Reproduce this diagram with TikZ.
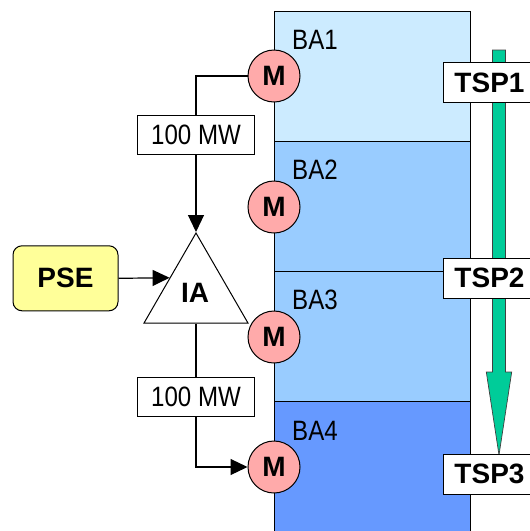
\documentclass[tikz,border=0pt]{standalone}
\usepackage{fontspec}
\setmainfont{Liberation Sans}
\newfontfamily\narrowf[FakeStretch=0.86]{Liberation Sans}
\usetikzlibrary{arrows.meta,shapes.geometric,calc}
\definecolor{baone}{HTML}{CCEBFF}
\definecolor{batwo}{HTML}{99CCFF}
\definecolor{bafour}{HTML}{6699FF}
\definecolor{mpink}{HTML}{FFAAAA}
\definecolor{tspgreen}{HTML}{00CC99}
\definecolor{pseyellow}{HTML}{FFFF99}
\tikzset{
  baarea/.style={draw=black, line width=1pt, minimum width=196pt, minimum height=130pt, anchor=north west, inner sep=0pt},
  balabel/.style={anchor=base west, inner sep=0pt, font=\narrowf\fontsize{28}{30}\selectfont},
  mnode/.style={circle, draw=black, line width=1pt, fill=mpink, minimum size=52pt, inner sep=0pt, font=\bfseries\fontsize{28}{30}\selectfont},
  mwbox/.style={draw=black, line width=1pt, fill=white, minimum width=117pt, minimum height=39pt, inner sep=0pt, font=\narrowf\fontsize{28}{30}\selectfont},
  tspbox/.style={draw=black, line width=1pt, fill=white, minimum width=92pt, minimum height=40pt, inner sep=0pt, anchor=west, font=\bfseries\fontsize{28}{30}\selectfont},
  wire/.style={draw=black, line width=1.2pt},
  arr/.style={wire, -{Triangle[length=17pt,width=16pt]}},
}
\begin{document}
\begin{tikzpicture}[x=1pt,y=-1pt]
\useasboundingbox (0,0) rectangle (530,531);
% balancing area column
\node[baarea, fill=baone] (ba1) at (274,11) {};
\node[baarea, fill=batwo] (ba2) at (274,141) {};
\node[baarea, fill=batwo] (ba3) at (274,271) {};
\node[baarea, fill=bafour, minimum height=150pt] (ba4) at (274,401) {};
\node[balabel] (l1) at (292,49) {BA1};
\node[balabel] (l2) at (292,179) {BA2};
\node[balabel] (l3) at (292,309) {BA3};
\node[balabel] (l4) at (292,440) {BA4};
% green arrow
\filldraw[fill=tspgreen, draw=black!75, line width=0.7pt]
  (492.5,50) -- (505.5,50) -- (505.5,372) -- (511.7,372) -- (499,455)
  -- (486.3,372) -- (492.5,372) -- cycle;
\node[tspbox] (t1) at (443,82.7) {TSP1};
\node[tspbox] (t2) at (443,278) {TSP2};
\node[tspbox] (t3) at (443,474) {TSP3};
% meters
\node[mnode] (m1) at (274,76) {M};
\node[mnode] (m2) at (274,207) {M};
\node[mnode] (m3) at (274,337) {M};
\node[mnode] (m4) at (274,467) {M};
% IA triangle
\node[regular polygon, regular polygon sides=3, draw=black, line width=1pt, fill=white,
      minimum size=120pt, inner sep=0pt] (ia) at (196,293) {};
\node[inner sep=0pt, font=\bfseries\fontsize{28}{30}\selectfont] (ialabel) at (195,293) {IA};
% PSE
\node[draw=black, line width=1pt, fill=pseyellow, rounded corners=9pt, minimum width=105pt,
      minimum height=65pt, inner sep=0pt, font=\bfseries\fontsize{28}{30}\selectfont] (pse) at (65.5,278.3) {PSE};
% 100 MW boxes
\node[mwbox] (mw1) at (196,135) {100 MW};
\node[mwbox] (mw2) at (196,396.5) {100 MW};
% connectors
\draw[wire] (m1.west) -| (mw1.north);
\draw[arr] (mw1.south) -- (ia.corner 1);
\draw[arr] (pse.east) -- ($(ia.corner 1)!0.5!(ia.corner 2)$);
\draw[wire] (ia.south) -- (mw2.north);
\draw[arr] (mw2.south) |- (m4.west);
\end{tikzpicture}
\end{document}
